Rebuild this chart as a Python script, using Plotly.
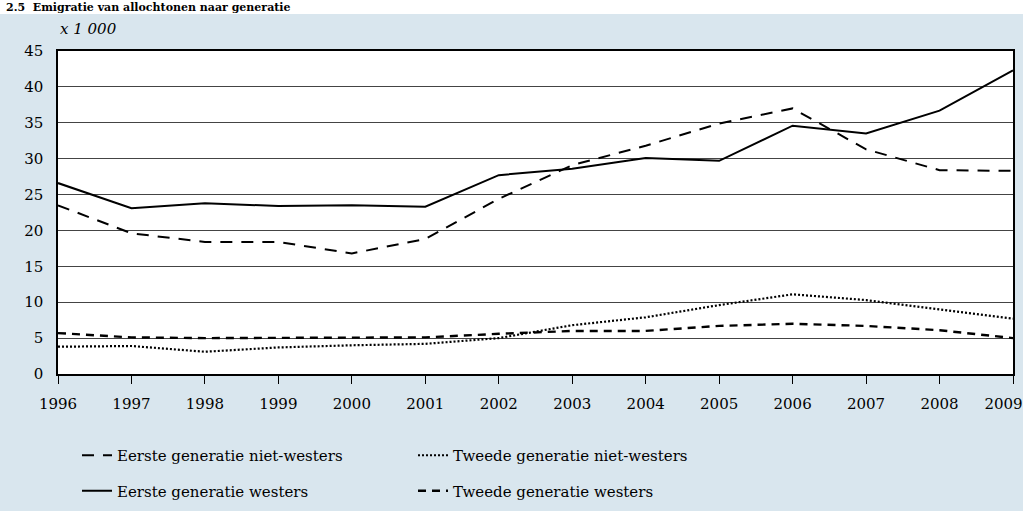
import plotly.graph_objects as go

years = list(range(1996, 2010))
year_labels = [str(y) for y in years]
eerste_niet_westers = [23.5, 19.6, 18.4, 18.4, 16.8, 18.8, 24.4, 29.1, 31.8, 34.9, 37.0, 31.3, 28.4, 28.3]
eerste_westers = [26.6, 23.1, 23.8, 23.4, 23.5, 23.3, 27.7, 28.6, 30.1, 29.7, 34.6, 33.5, 36.7, 42.3]
tweede_niet_westers = [3.8, 3.9, 3.1, 3.7, 4.0, 4.2, 5.0, 6.8, 7.9, 9.6, 11.1, 10.3, 9.0, 7.7]
tweede_westers = [5.7, 5.1, 5.0, 5.0, 5.0, 5.1, 5.6, 6.0, 6.0, 6.7, 7.0, 6.7, 6.1, 5.0]
y_ticks = [0, 5, 10, 15, 20, 25, 30, 35, 40, 45]

FONT = "DejaVu Serif"
BG = "#d9e6ee"

# last label padded so it stays inside the page like in the reference
tick_text = year_labels[:-1] + [year_labels[-1] + "\u00a0" * 4]

fig = go.Figure()
fig.add_trace(go.Scatter(x=years, y=eerste_niet_westers, mode="lines", name="Eerste generatie niet-westers",
                         line=dict(color="black", width=2, dash="12px,9px"), legend="legend", legendgroup="a"))
fig.add_trace(go.Scatter(x=years, y=eerste_westers, mode="lines", name="Eerste generatie westers",
                         line=dict(color="black", width=2), legend="legend", legendgroup="b"))
fig.add_trace(go.Scatter(x=years, y=tweede_niet_westers, mode="lines", name="Tweede generatie niet-westers",
                         line=dict(color="black", width=2.2, dash="2px,2px"), legend="legend2", legendgroup="c"))
fig.add_trace(go.Scatter(x=years, y=tweede_westers, mode="lines", name="Tweede generatie westers",
                         line=dict(color="black", width=2.4, dash="8px,6px"), legend="legend2", legendgroup="d"))

legend_common = dict(font=dict(family=FONT, size=15, color="black"), bgcolor="rgba(0,0,0,0)",
                     orientation="v", tracegroupgap=13, yanchor="top", xanchor="left", traceorder="grouped",
                     xref="container", yref="container")

fig.update_layout(
    width=1023, height=511,
    margin=dict(l=58, r=10, t=51, b=137, autoexpand=False),
    paper_bgcolor=BG, plot_bgcolor="white",
    font=dict(family=FONT, size=15, color="black"),
    showlegend=True,
    legend=dict(x=77 / 1023, y=1 - 439 / 511, **legend_common),
    legend2=dict(x=413 / 1023, y=1 - 439 / 511, **legend_common),
    xaxis=dict(range=[1996, 2009], tickmode="array", tickvals=years, ticktext=tick_text,
               showgrid=False, showline=True, linecolor="black", linewidth=1.5, mirror=True,
               ticks="outside", ticklen=8, tickcolor="black", tickwidth=1, zeroline=False,
               ticklabeloverflow="allow", ticklabelstandoff=7, automargin=False,
               tickfont=dict(family=FONT, size=15)),
    yaxis=dict(range=[0, 45], tickmode="array", tickvals=y_ticks, showgrid=True, gridcolor="#444444",
               gridwidth=1, showline=True, linecolor="black", linewidth=1.5, mirror=True,
               ticks="", zeroline=False, ticklabelstandoff=10, automargin=False,
               tickfont=dict(family=FONT, size=15)),
    shapes=[dict(type="rect", xref="paper", yref="paper", x0=-0.1, x1=1.02, y0=1.0 + 37 / 323, y1=1.2,
                 fillcolor="white", line=dict(width=0), layer="below")],
    annotations=[
        dict(text="<i>x 1 000</i>", xref="paper", yref="paper", x=0.0, y=1.0 + 22 / 323, xanchor="left",
             yanchor="middle", showarrow=False, font=dict(family=FONT, size=15)),
        dict(text="<b>2.5  Emigratie van allochtonen naar generatie</b>", xref="paper", yref="paper",
             x=-0.0555, y=1.0 + 51 / 323, xanchor="left", yanchor="top", showarrow=False, borderpad=0,
             font=dict(family=FONT, size=11)),
    ],
)

fig.write_html("out.html", config={"displayModeBar": False},
               post_script="document.body.style.margin='0';")
